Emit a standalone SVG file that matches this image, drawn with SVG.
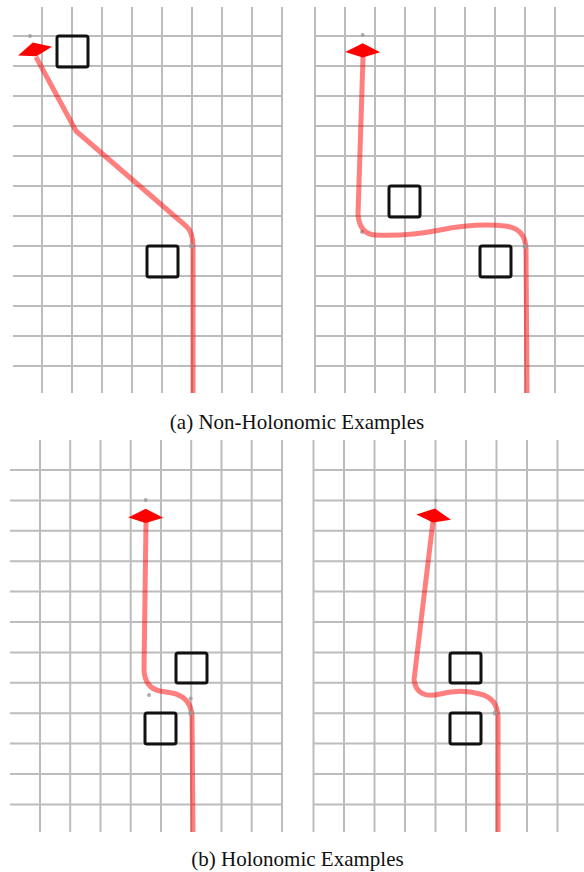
<svg xmlns="http://www.w3.org/2000/svg" width="584" height="872" viewBox="0 0 584 872">
<style>
.grid{stroke:#bcbcbc;stroke-width:2;fill:none}
.path{stroke:#ff0000;stroke-opacity:0.5;stroke-width:5;fill:none;stroke-linejoin:round;stroke-linecap:butt}
.box{stroke:#111;stroke-width:3;fill:none}
.head{fill:#ff0000}
.dot{fill:#9a9a9a;fill-opacity:0.8}
.cap{font-family:"Liberation Serif","Times New Roman",serif;font-size:21px;fill:#111;text-anchor:middle}
</style>
<defs>
<polygon id="kite" points="0,-8.7 17.5,0.3 0,5.5 -17.5,0"/>
</defs>
<rect width="584" height="872" fill="#fff"/>

<g id="panel-a1">
<path class="grid" d="M42,7V393M72,7V393M102,7V393M132,7V393M162,7V393M192,7V393M222,7V393M252,7V393M282,7V393
M13,36H283M13,66H283M13,96H283M13,126H283M13,156H283M13,186H283M13,216H283M13,246H283M13,276H283M13,306H283M13,336H283M13,366H283"/>
<rect class="box" x="57" y="36" width="31" height="31" rx="2"/>
<rect class="box" x="147" y="246" width="31" height="31" rx="2"/>
<circle class="dot" cx="30" cy="36" r="2"/>
<path class="path" d="M193,393 L193,246 Q193,232 186,226 L76,131 L36,57"/>
<circle class="dot" cx="191.5" cy="246" r="2.5"/>
<use href="#kite" class="head" transform="translate(35,51) rotate(-15)"/>
</g>

<g id="panel-a2">
<path class="grid" d="M315,7V393M345,7V393M375,7V393M405,7V393M435,7V393M465,7V393M495,7V393M525,7V393M555,7V393
M315,36H584M315,66H584M315,96H584M315,126H584M315,156H584M315,186H584M315,216H584M315,246H584M315,276H584M315,306H584M315,336H584M315,366H584"/>
<rect class="box" x="389" y="186" width="31" height="31" rx="2"/>
<rect class="box" x="480" y="246" width="31" height="31" rx="2"/>
<circle class="dot" cx="362.7" cy="35" r="2"/>
<circle class="dot" cx="362" cy="232" r="2"/>
<path class="path" d="M527,393 L526,248 Q525,228 505,226 C485,224 460,226 440,230 C420,234 395,236 375,235 Q360,234 358,215 L363,57"/>
<circle class="dot" cx="525" cy="246.5" r="2.5"/>
<use href="#kite" class="head" transform="translate(362.7,52)"/>
</g>

<text class="cap" x="297" y="429">(a) Non-Holonomic Examples</text>

<g id="panel-b1">
<path class="grid" d="M40,440V832M70.2,440V832M100.5,440V832M130.7,440V832M161,440V832M191.2,440V832M221.5,440V832M251.7,440V832M282,440V832
M10,470H282M10,500.4H282M10,530.8H282M10,561.2H282M10,591.6H282M10,622H282M10,652.4H282M10,682.8H282M10,713.2H282M10,743.6H282M10,774H282M10,804.4H282"/>
<rect class="box" x="176" y="653" width="31" height="30" rx="2"/>
<rect class="box" x="145" y="713" width="31" height="31" rx="2"/>
<circle class="dot" cx="145.7" cy="500" r="2"/>
<circle class="dot" cx="149" cy="695" r="2"/>
<circle class="dot" cx="190.7" cy="698.5" r="2"/>
<path class="path" d="M193,832 L192,716 Q191,697 172,693 L160,691 Q145,688 144,670 L146,522"/>
<circle class="dot" cx="190.7" cy="713" r="2.5"/>
<use href="#kite" class="head" transform="translate(145.7,517.5)"/>
</g>

<g id="panel-b2">
<path class="grid" d="M313.5,440V832M344,440V832M374.5,440V832M405,440V832M435.5,440V832M466,440V832M496.5,440V832M527,440V832M557.5,440V832
M313,470H584M313,500.4H584M313,530.8H584M313,561.2H584M313,591.6H584M313,622H584M313,652.4H584M313,682.8H584M313,713.2H584M313,743.6H584M313,774H584M313,804.4H584"/>
<rect class="box" x="450" y="653" width="31" height="30" rx="2"/>
<rect class="box" x="450" y="713" width="31" height="31" rx="2"/>
<circle class="dot" cx="435.7" cy="500.5" r="1.8"/>
<path class="path" d="M498,832 L498,716 Q497,698 480,694 C470,691 455,690 440,694 C425,698 416,693 414,680 L433,521"/>
<circle class="dot" cx="495" cy="713" r="2.5"/>
<use href="#kite" class="head" transform="translate(433.7,517) rotate(8)"/>
</g>

<text class="cap" x="297.5" y="866">(b) Holonomic Examples</text>
</svg>
